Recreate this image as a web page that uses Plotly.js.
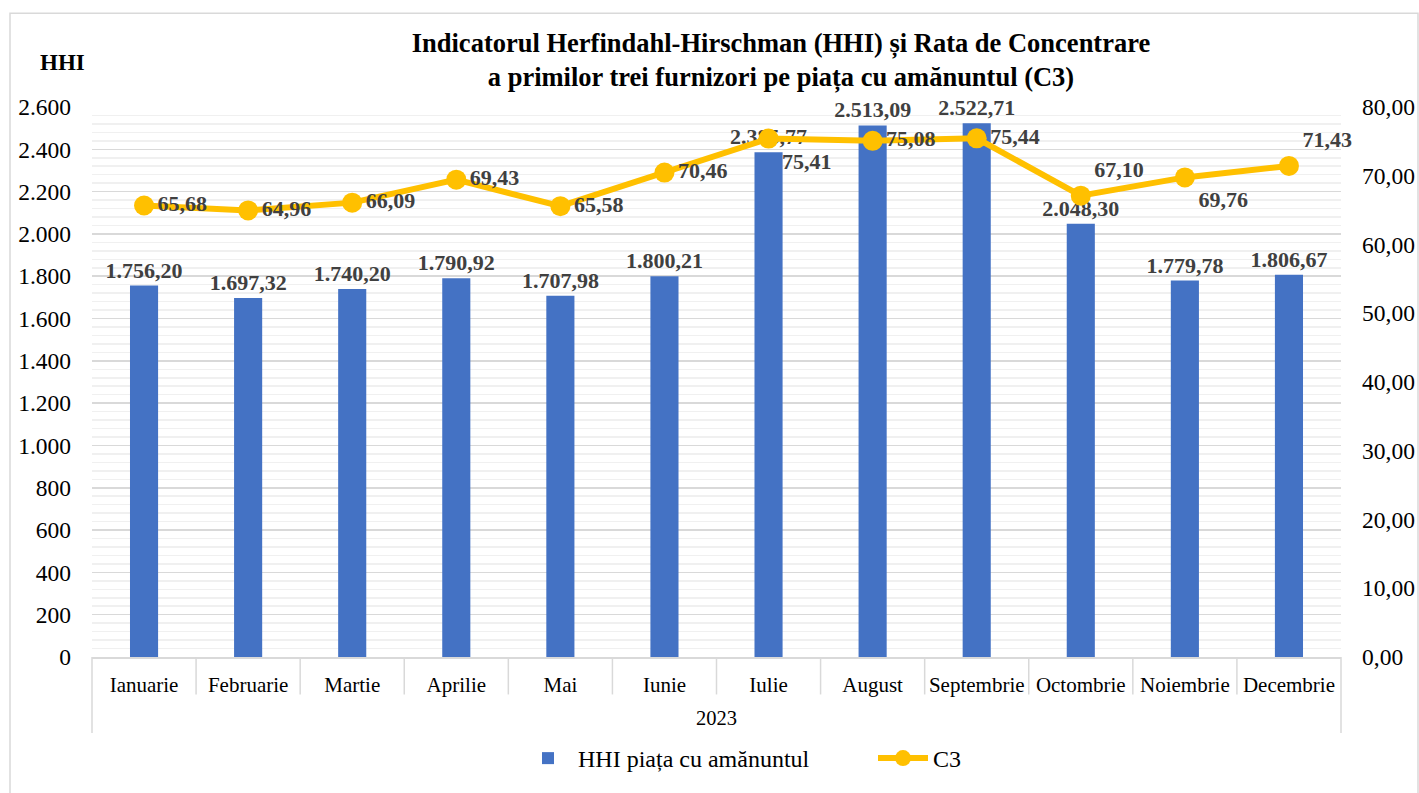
<!DOCTYPE html>
<html>
<head>
<meta charset="utf-8">
<script src="https://cdn.plot.ly/plotly-3.0.1.min.js"></script>
<style>html,body{margin:0;padding:0;background:#fff;overflow:hidden;width:1419px;height:793px;}#chart{width:1419px;height:793px;overflow:hidden;}</style>
</head>
<body>
<div id="chart"></div>
<script>
const months = ["Ianuarie","Februarie","Martie","Aprilie","Mai","Iunie","Iulie","August","Septembrie","Octombrie","Noiembrie","Decembrie"];
const hhiValues = [1756.20, 1697.32, 1740.20, 1790.92, 1707.98, 1800.21, 2385.77, 2513.09, 2522.71, 2048.30, 1779.78, 1806.67];
const c3Values = [65.68, 64.96, 66.09, 69.43, 65.58, 70.46, 75.41, 75.08, 75.44, 67.10, 69.76, 71.43];
const yearLabel = "2023";
const hhiName = "HHI piața cu amănuntul";
const c3Name = "C3";

const c3LabelPos = ["middle right","middle right","middle right","middle right","middle right","middle right","bottom right","middle right","middle right","top right","bottom right","top right"];

const FONT = "Liberation Serif";
const L = 92, R = 1341, T = 107, B = 665, W = 1419, H = 793;
const pw = R - L, ph = B - T;
const px = v => (v - L) / pw;
const py = v => (B - v) / ph;

const barTrace = {
  type: "bar", name: hhiName, x: months, y: hhiValues,
  marker: {color: "#4472C4"}, width: 0.27,
  text: hhiValues, texttemplate: "%{y:,.2f}", textposition: "outside", constraintext: "none",
  textfont: {family: FONT, size: 22, color: "#404040", weight: "bold"},
  cliponaxis: false, hoverinfo: "skip"
};
const lineTrace = {
  type: "scatter", mode: "lines+markers+text", name: c3Name, x: months, y: c3Values, yaxis: "y2",
  line: {color: "#FFC000", width: 6}, marker: {color: "#FFC000", size: 20},
  text: c3Values, texttemplate: "%{y:,.2f}", textposition: c3LabelPos,
  textfont: {family: FONT, size: 22, color: "#404040", weight: "bold"},
  cliponaxis: false, hoverinfo: "skip"
};

const shapes = [];
shapes.push({type: "rect", xref: "paper", yref: "paper", x0: px(10), x1: px(1418), y0: py(820), y1: py(12), line: {color: "#d9d9d9", width: 1.5}, layer: "below"});
for (let i = 1; i < months.length; i++) {
  shapes.push({type: "line", xref: "paper", yref: "paper", x0: i / months.length, x1: i / months.length, y0: 0, y1: py(703), line: {color: "#d9d9d9", width: 1.5}});
}
shapes.push({type: "line", xref: "paper", yref: "paper", x0: 0, x1: 0, y0: 0, y1: py(742), line: {color: "#d9d9d9", width: 1.5}});
shapes.push({type: "line", xref: "paper", yref: "paper", x0: 1, x1: 1, y0: 0, y1: py(742), line: {color: "#d9d9d9", width: 1.5}});

const layout = {
  width: W, height: H,
  margin: {l: L, r: W - R, t: T, b: H - B, pad: 0},
  paper_bgcolor: "#fff", plot_bgcolor: "#fff",
  separators: ",.",
  font: {family: FONT, color: "#000"},
  title: {
    text: "Indicatorul Herfindahl-Hirschman (HHI) și Rata de Concentrare<br>a primilor trei furnizori pe piața cu amănuntul (C3)",
    x: 781 / W, xanchor: "center", xref: "container",
    y: 1 - 52 / H, yanchor: "top", yref: "container",
    font: {family: FONT, size: 26.5, color: "#000", weight: "bold"}
  },
  showlegend: true,
  legend: {
    orientation: "h", x: px(518), xanchor: "left", y: py(768), yanchor: "middle",
    font: {family: FONT, size: 24, color: "#000"}, entrywidth: 290, itemwidth: 50,
    bgcolor: "rgba(0,0,0,0)"
  },
  xaxis: {
    type: "category", range: [-0.5, months.length - 0.5], showgrid: false, showline: true, linecolor: "#d9d9d9", linewidth: 1.5,
    ticks: "", tickfont: {family: FONT, size: 21, color: "#000"}, ticklabelstandoff: 8,
    fixedrange: true
  },
  yaxis: {
    range: [0, 2600], dtick: 200, tickformat: ",.0f",
    showgrid: true, gridcolor: "#d9d9d9", gridwidth: 1.5,
    minor: {dtick: 40, showgrid: true, gridcolor: "#f0f0f0", gridwidth: 1.5},
    zeroline: false, showline: false, ticks: "",
    tickfont: {family: FONT, size: 23.5, color: "#000"}, ticklabelstandoff: 20
  },
  yaxis2: {
    range: [0, 80], dtick: 10, tickformat: ",.2f", overlaying: "y", side: "right",
    showgrid: false, zeroline: false, showline: false, ticks: "",
    tickfont: {family: FONT, size: 23.5, color: "#000"}, ticklabelstandoff: 20
  },
  shapes: shapes,
  annotations: [
    {text: yearLabel, xref: "paper", yref: "paper", x: 0.5, y: py(727), showarrow: false, xanchor: "center", yanchor: "middle", font: {family: FONT, size: 20.5, color: "#000"}},
    {text: "HHI", xref: "paper", yref: "paper", x: px(62), y: py(62), showarrow: false, xanchor: "center", yanchor: "middle", font: {family: FONT, size: 23, color: "#000", weight: "bold"}}
  ]
};

Plotly.newPlot("chart", [barTrace, lineTrace], layout, {displayModeBar: false, staticPlot: true});
</script>
</body>
</html>
